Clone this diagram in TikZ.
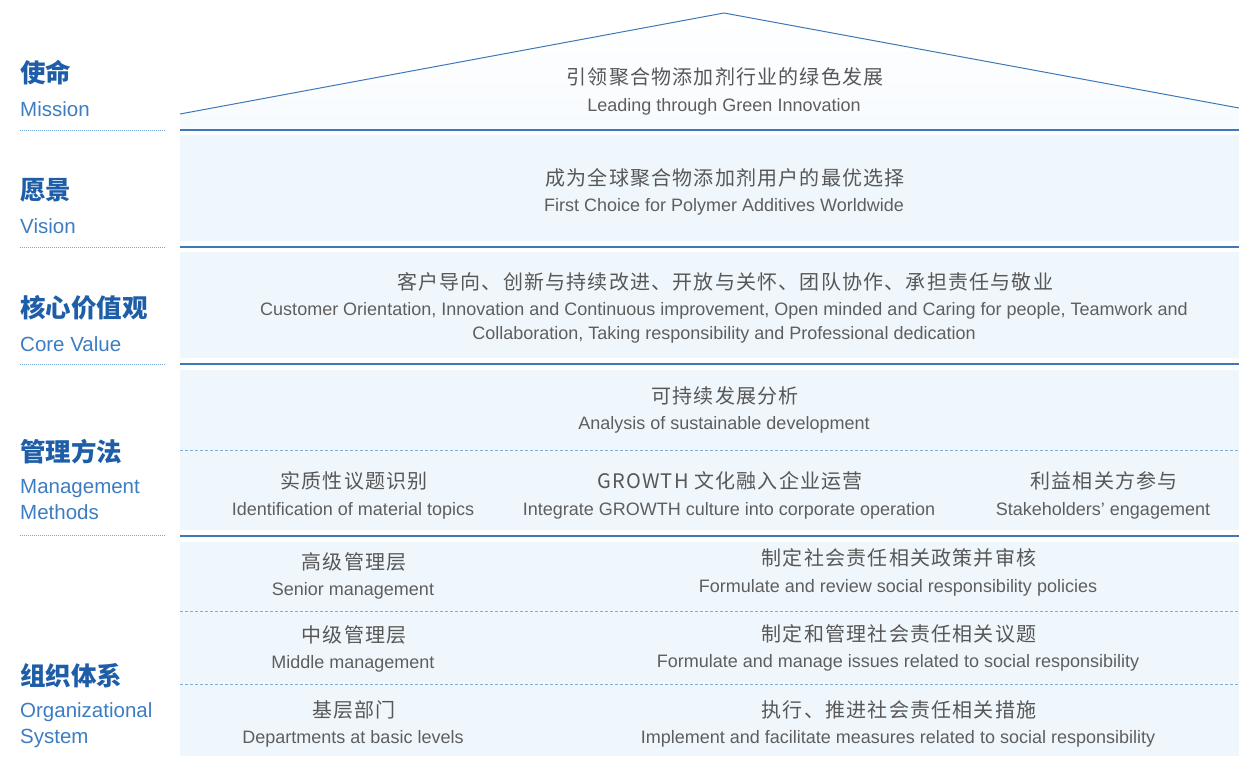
\documentclass[tikz,border=0pt]{standalone}
\usepackage{fontspec}
\setmainfont{Liberation Sans}
\newfontfamily\cjk{Noto Sans CJK SC}
\newfontfamily\cjkwide{Noto Sans CJK SC}[LetterSpace=6]
\definecolor{panel}{HTML}{F0F7FC}
\definecolor{mainline}{HTML}{3F78B6}
\definecolor{dashline}{HTML}{7FAFD9}
\definecolor{ttl}{HTML}{1E5EA8}
\definecolor{ttlen}{HTML}{3C7DC2}
\definecolor{txt}{HTML}{575757}
\definecolor{txten}{HTML}{5E5E5E}
\begin{document}
\begin{tikzpicture}[x=1pt,y=-1pt,
  zh/.style={font=\cjkwide\fontsize{20}{23}\selectfont, text=txt, inner sep=0pt},
  en/.style={font=\fontsize{18}{24}\selectfont, text=txten, inner sep=0pt, align=center, yshift=-2pt},
  head/.style={font=\cjk\bfseries\fontsize{25.5}{28}\selectfont, text=ttl, inner sep=0pt, anchor=west},
  headen/.style={font=\fontsize{20.5}{26}\selectfont, text=ttlen, inner sep=0pt, anchor=west, align=left},
  solidline/.style={draw=mainline, line width=1.4pt},
  dashsep/.style={draw=dashline, line width=1pt, dash pattern=on 2.5pt off 2.5pt},
  leftsep/.style={draw=ttlen!70, line width=0.9pt, dash pattern=on 1pt off 1pt},
  panelbox/.style={fill=panel, draw=none}]
\useasboundingbox (0,0) rectangle (1239,756);

% roof
\shade[top color=white, bottom color=panel!50] (180,114) -- (724,13) -- (1239,108) -- (1239,129) -- (180,129) -- cycle;
\coordinate (roofL) at (180,114);
\coordinate (roofT) at (724,13);
\coordinate (roofR) at (1239,108);
\draw[mainline, line width=1pt] (roofL) -- (roofT) -- (roofR);

% panels
\fill[panelbox] (180,135) rectangle (1239,241);
\fill[panelbox] (180,252) rectangle (1239,358);
\fill[panelbox] (180,370) rectangle (1239,530);
\fill[panelbox] (180,542) rectangle (1239,756);

% separators
\foreach \yy in {130,247,364,536} {
  \draw[solidline] (180,\yy) -- (1239,\yy);
}
\foreach \yy in {130,247,364,535} {
  \draw[leftsep] (20,\yy) -- (165,\yy);
}
\foreach \yy in {450,611,684} {
  \draw[dashsep] (180,\yy) -- (1239,\yy);
}

% left headings
\node[head] (h1) at (20,73) {使命};
\node[headen] (h1e) at (20,109) {Mission};
\node[head] (h2) at (20,190) {愿景};
\node[headen] (h2e) at (20,226) {Vision};
\node[head] (h3) at (20,308) {核心价值观};
\node[headen] (h3e) at (20,344) {Core Value};
\node[head] (h4) at (20,452) {管理方法};
\node[headen] (h4e) at (20,500) {Management\\Methods};
\node[head] (h5) at (20,676) {组织体系};
\node[headen] (h5e) at (20,725) {Organizational\\System};

% mission
\node[zh] (m1) at (725,77) {引领聚合物添加剂行业的绿色发展};
\node[en] (m1e) at (724,105) {Leading through Green Innovation};
% vision
\node[zh] (v1) at (725,178) {成为全球聚合物添加剂用户的最优选择};
\node[en] (v1e) at (724,205) {First Choice for Polymer Additives Worldwide};
% core value
\node[zh] (c1) at (725,282) {客户导向、创新与持续改进、开放与关怀、团队协作、承担责任与敬业};
\node[en] (c1e) at (724,321) {Customer Orientation, Innovation and Continuous improvement, Open minded and Caring for people, Teamwork and\\Collaboration, Taking responsibility and Professional dedication};
% management
\node[zh] (a1) at (725,396) {可持续发展分析};
\node[en] (a1e) at (724,423) {Analysis of sustainable development};
\node[zh] (b1) at (354,481) {实质性议题识别};
\node[en] (b1e) at (353,509) {Identification of material topics};
\node[zh] (b2) at (730,481) {GROWTH 文化融入企业运营};
\node[en] (b2e) at (729,509) {Integrate GROWTH culture into corporate operation};
\node[zh] (b3) at (1104,481) {利益相关方参与};
\node[en] (b3e) at (1103,509) {Stakeholders’ engagement};
% organization
\node[zh] (o1) at (354,562) {高级管理层};
\node[en] (o1e) at (353,589) {Senior management};
\node[zh] (o2) at (354,635) {中级管理层};
\node[en] (o2e) at (353,662) {Middle management};
\node[zh] (o3) at (354,710) {基层部门};
\node[en] (o3e) at (353,737) {Departments at basic levels};
\node[zh] (r1) at (899,558) {制定社会责任相关政策并审核};
\node[en] (r1e) at (898,586) {Formulate and review social responsibility policies};
\node[zh] (r2) at (899,634) {制定和管理社会责任相关议题};
\node[en] (r2e) at (898,661) {Formulate and manage issues related to social responsibility};
\node[zh] (r3) at (899,710) {执行、推进社会责任相关措施};
\node[en] (r3e) at (898,737) {Implement and facilitate measures related to social responsibility};
\end{tikzpicture}
\end{document}
